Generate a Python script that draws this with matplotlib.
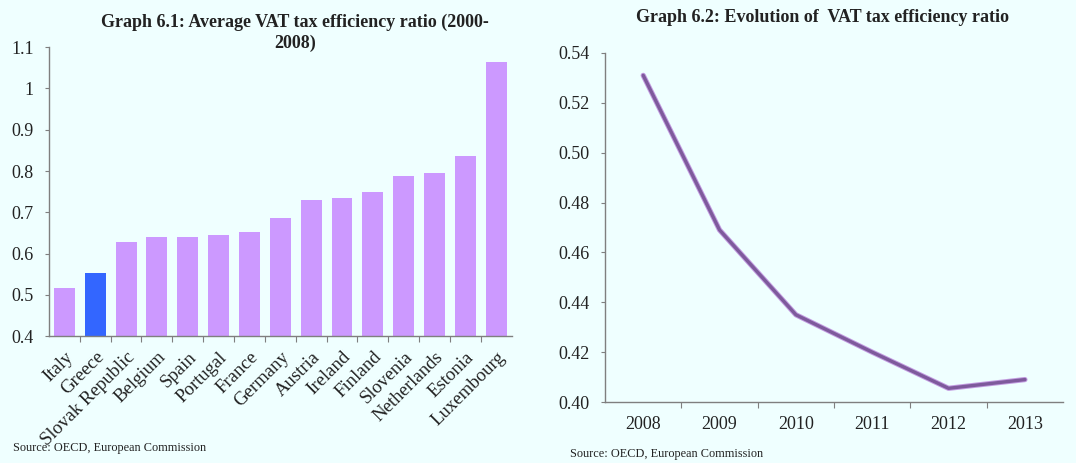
import matplotlib
matplotlib.use("Agg")
import matplotlib.pyplot as plt

countries = ["Italy", "Greece", "Slovak Republic", "Belgium", "Spain", "Portugal",
             "France", "Germany", "Austria", "Ireland", "Finland", "Slovenia",
             "Netherlands", "Estonia", "Luxembourg"]
efficiency_avg = [0.517, 0.554, 0.627, 0.639, 0.639, 0.646, 0.653, 0.686,
                  0.729, 0.734, 0.750, 0.789, 0.795, 0.837, 1.064]
highlight = "Greece"

years = ["2008", "2009", "2010", "2011", "2012", "2013"]
efficiency_evol = [0.531, 0.469, 0.435, 0.420, 0.4055, 0.409]

left_ticks = [0.4, 0.5, 0.6, 0.7, 0.8, 0.9, 1.0, 1.1]
left_ticklabels = ["0.4", "0.5", "0.6", "0.7", "0.8", "0.9", "1", "1.1"]
right_ticks = [0.40, 0.42, 0.44, 0.46, 0.48, 0.50, 0.52, 0.54]

BG = "#EFFFFF"
BAR = "#CC99FF"
HL = "#3366FF"
LINE = "#7E5A9C"
AX = "#7F7F7F"
TXT = "#222222"
FONT = "Liberation Serif"

plt.rcParams["font.family"] = [FONT, "DejaVu Serif"]
plt.rcParams["text.color"] = TXT
plt.rcParams["xtick.labelcolor"] = TXT
plt.rcParams["ytick.labelcolor"] = TXT

fig = plt.figure(figsize=(10.76, 4.63), dpi=100, facecolor=BG)

# ---- Left chart ----
ax1 = fig.add_axes([0.0455, 0.274, 0.430, 0.624])
ax1.set_facecolor(BG)
x = list(range(len(countries)))
colors = [HL if c == highlight else BAR for c in countries]
ax1.bar(x, [v - 0.4 for v in efficiency_avg], bottom=0.4, width=0.68, color=colors)
ax1.set_xlim(-0.5, len(countries) - 0.5)
ax1.set_ylim(0.4, 1.1)
ax1.set_yticks(left_ticks)
ax1.set_yticklabels(left_ticklabels, fontsize=13)
ax1.set_xticks([i + 0.5 for i in x[:-1]], minor=False)
ax1.set_xticklabels([])
ax1.set_xticks(x, minor=True)
ax1.set_xticklabels(countries, minor=True, rotation=45, ha="right",
                    rotation_mode="anchor", fontsize=13.5)
ax1.tick_params(axis="x", which="minor", length=0, pad=9)
ax1.tick_params(axis="x", which="major", length=4, direction="out", color=AX)
ax1.tick_params(axis="y", length=3, direction="out", color=AX, pad=8)
for s in ["top", "right"]:
    ax1.spines[s].set_visible(False)
for s in ["left", "bottom"]:
    ax1.spines[s].set_color(AX)
    ax1.spines[s].set_linewidth(1.0)

fig.text(295 / 1076, 1 - 22 / 463, "Graph 6.1: Average VAT tax efficiency ratio (2000-",
         ha="center", va="center", fontsize=13, fontweight="bold")
fig.text(295 / 1076, 1 - 43 / 463, "2008)",
         ha="center", va="center", fontsize=13, fontweight="bold")
fig.text(13 / 1076, 1 - 448 / 463, "Source: OECD, European Commission",
         ha="left", va="center", fontsize=8.8)

# ---- Right chart ----
ax2 = fig.add_axes([0.5623, 0.1317, 0.4257, 0.754])
ax2.set_facecolor(BG)
xi = list(range(len(years)))
ax2.plot(xi, efficiency_evol, color="#C29BE0", linewidth=3.8, solid_capstyle="round")
ax2.plot(xi, efficiency_evol, color=LINE, linewidth=2.4, solid_capstyle="round")
ax2.set_xlim(-0.5, len(years) - 0.5)
ax2.set_ylim(0.40, 0.54)
ax2.set_yticks(right_ticks)
ax2.set_yticklabels([f"{t:.2f}" for t in right_ticks], fontsize=13)
ax2.set_xticks([i + 0.5 for i in xi[:-1]])
ax2.set_xticklabels([])
ax2.set_xticks(xi, minor=True)
ax2.set_xticklabels(years, minor=True, fontsize=13)
ax2.tick_params(axis="x", which="minor", length=0, pad=10)
ax2.tick_params(axis="x", which="major", length=4, direction="out", color=AX)
ax2.tick_params(axis="y", length=3, direction="out", color=AX, pad=8)
for s in ["top", "right"]:
    ax2.spines[s].set_visible(False)
for s in ["left", "bottom"]:
    ax2.spines[s].set_color(AX)
    ax2.spines[s].set_linewidth(1.0)

fig.text(822 / 1076, 1 - 17 / 463, "Graph 6.2: Evolution of  VAT tax efficiency ratio",
         ha="center", va="center", fontsize=13, fontweight="bold")
fig.text(570 / 1076, 1 - 454 / 463, "Source: OECD, European Commission",
         ha="left", va="center", fontsize=8.8)

fig.savefig("out.png", dpi=100, facecolor=BG)
